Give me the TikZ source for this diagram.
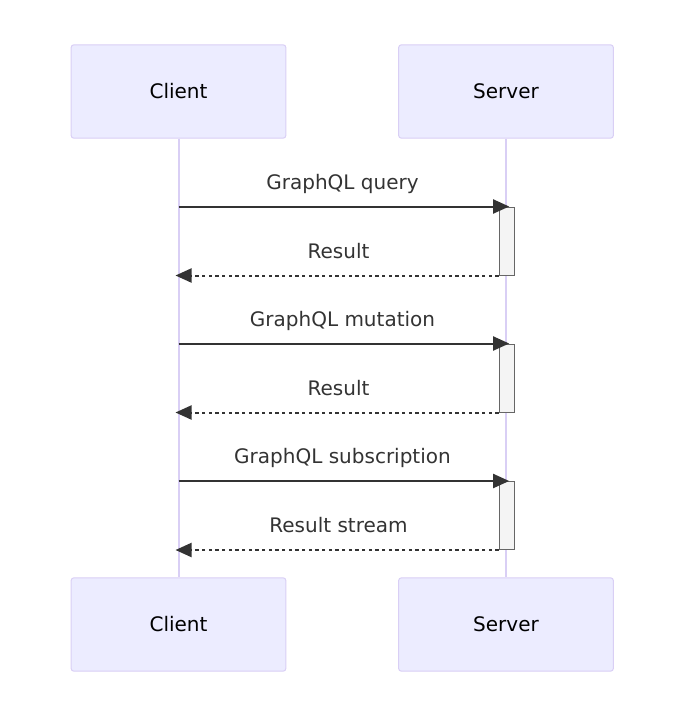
\documentclass[tikz,border=0pt]{standalone}
\usepackage{fontspec}
\setmainfont{DejaVu Sans}
\usepackage{xcolor}
\usepackage{tikz}
\usetikzlibrary{arrows.meta,positioning}
\definecolor{actorfill}{HTML}{ECECFF}
\definecolor{actorline}{HTML}{D9CFF5}
\definecolor{ink}{HTML}{333333}
\definecolor{actfill}{HTML}{F4F4F4}
\definecolor{actline}{HTML}{666666}

\begin{document}
\begin{tikzpicture}[x=0.75pt,y=-0.75pt,>={Triangle[length=12pt,width=10.5pt]},
    font=\fontsize{15}{18}\selectfont,
    actor/.style={draw=actorline,fill=actorfill,line width=0.75pt,rounded corners=2pt,
      minimum width=161pt,minimum height=70pt,text=black},
    lifeline/.style={draw=actorline,line width=1.5pt},
    actbox/.style={draw=actline,fill=actfill,line width=0.75pt,
      minimum width=11.25pt,minimum height=51pt,inner sep=0pt},
    msg/.style={->,draw=ink,line width=1.5pt},
    reply/.style={msg,dash pattern=on 2.5pt off 2.5pt},
    msglabel/.style={text=ink,anchor=base,yshift=13pt}]
    \useasboundingbox (0,0) rectangle (685,719);
    % participants
    \node[actor] (ctop) at (178.5,91.5) {Client};
    \node[actor] (stop) at (506,91.5) {Server};
    \node[actor] (cbot) at (178.5,624.5) {Client};
    \node[actor] (sbot) at (506,624.5) {Server};
    \draw[lifeline] (ctop) -- (cbot);
    \draw[lifeline] (stop) -- (sbot);
    % request / response pairs
    \foreach \i/\req/\res/\y in {1/GraphQL query/Result/241,
                                 2/GraphQL mutation/Result/378,
                                 3/GraphQL subscription/Result stream/515.5}{
      \node[actbox] (act\i) at (506.5,\y) {};
      \draw[msg,shorten >=-2pt] (ctop |- act\i.north) -- (act\i.north)
        node[midway,msglabel] {\req};
      \draw[reply,shorten >=-2.25pt] (act\i.south west) -- (ctop |- act\i.south)
        node[midway,msglabel] {\res};
    }
  \end{tikzpicture}
\end{document}
